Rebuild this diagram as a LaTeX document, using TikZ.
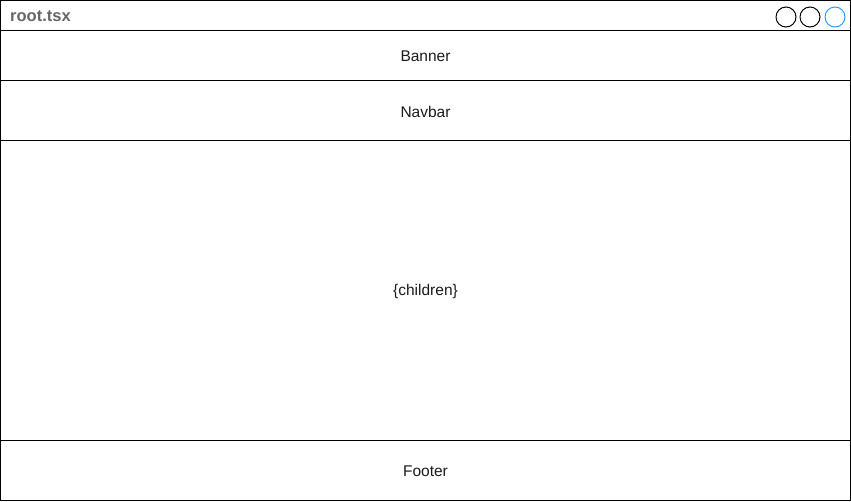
\documentclass[tikz,border=0pt]{standalone}
\usepackage{fontspec}
\setmainfont{Liberation Sans}
\definecolor{titlegray}{HTML}{666666}
\definecolor{txt}{HTML}{1A1A1A}
\definecolor{blueish}{HTML}{3399FF}
\begin{document}
\begin{tikzpicture}[x=1pt,y=-1pt,
  sect/.style={draw=black,line width=1pt},
  lbl/.style={text=txt,font=\fontsize{15.5}{18}\selectfont,inner sep=0pt},
  ttl/.style={text=titlegray,font=\bfseries\fontsize{16.5}{19}\selectfont,inner sep=0pt,anchor=west},
  dot/.style={draw=black,line width=1pt,circle,minimum size=20pt,inner sep=0pt}]
\useasboundingbox (0,0) rectangle (851,501);
\draw[sect] (0.5,0.5) rectangle (850.5,500.5);
\draw[sect] (0.5,30.5) -- (850.5,30.5);
\draw[sect] (0.5,80.5) -- (850.5,80.5);
\draw[sect] (0.5,140.5) -- (850.5,140.5);
\draw[sect] (0.5,440.5) -- (850.5,440.5);
\node[ttl] (title) at (10,16.5) {root.tsx};
\node[dot] (c1) at (786,17) {};
\node[dot] (c2) at (810,17) {};
\node[dot,draw=blueish] (c3) at (835,17) {};
\node[lbl] (banner) at (425.5,56.5) {Banner};
\node[lbl] (navbar) at (425.5,111.5) {Navbar};
\node[lbl] (children) at (425.5,291.5) {\{children\}};
\node[lbl] (footer) at (425.5,471.5) {Footer};
\end{tikzpicture}
\end{document}
